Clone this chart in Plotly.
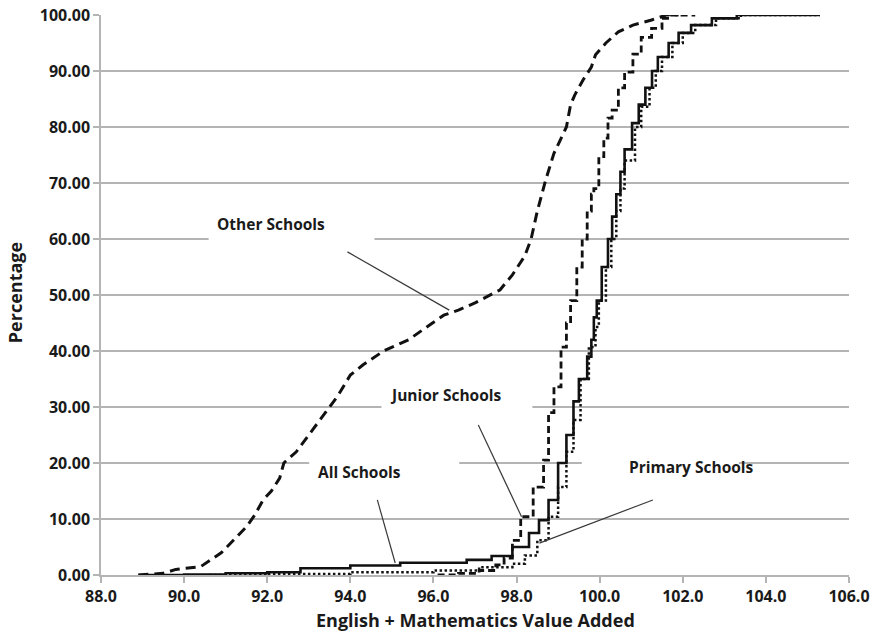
import plotly.graph_objects as go

# ---------------- data ----------------
other_x = [88.9, 89.5, 89.8, 90.4, 90.9, 91.25, 91.5, 91.7, 91.9, 92.1, 92.3, 92.4, 92.7,
           93.1, 93.4, 93.7, 94.0, 94.3, 94.8, 95.4, 95.9, 96.25, 96.6, 97.0, 97.6, 97.9,
           98.2, 98.35, 98.5, 98.7, 98.9, 99.2, 99.3, 99.4, 99.6, 99.8, 99.9, 100.15,
           100.45, 100.8, 101.25, 101.6, 101.9]
other_y = [0, 0.3, 1, 1.5, 4, 6.6, 8.6, 10.7, 13.4, 15, 17.3, 20, 22,
           26, 29, 32, 35.7, 37.5, 40, 42, 44.6, 46.4, 47.3, 48.6, 50.9, 53.6,
           57, 60, 65, 70.5, 75.3, 80, 84, 85.7, 88.4, 90.7, 92.9, 95,
           97, 98.2, 99.1, 100, 100]

junior_x = [96.1, 96.6, 97.1, 97.5, 97.7, 97.9, 98.1, 98.4, 98.65, 98.77, 98.9, 99.07,
            99.2, 99.3, 99.45, 99.58, 99.7, 99.8, 99.86, 99.98, 100.1, 100.2, 100.3,
            100.45, 100.6, 100.8, 101.0, 101.25, 101.5, 101.7, 102.3]
junior_y = [0, 0.3, 0.8, 1.8, 3, 6.2, 10.4, 15.7, 20.5, 29, 33.6, 40.7,
            45, 49, 55, 60, 65, 68, 69, 74.7, 78, 81.6, 83,
            87, 89.8, 93, 96, 97.6, 99.4, 100, 100]

all_x = [88.9, 90.0, 91.0, 92.0, 92.8, 94.0, 95.2, 96.8, 97.4, 97.9, 98.3, 98.54, 98.77,
         99.0, 99.2, 99.37, 99.5, 99.7, 99.8, 99.86, 99.93, 100.05, 100.2, 100.3, 100.4,
         100.5, 100.6, 100.78, 100.94, 101.1, 101.26, 101.4, 101.66, 101.9, 102.2, 102.7,
         103.3, 105.3]
all_y = [0, 0.1, 0.3, 0.5, 1.2, 1.7, 2.2, 2.7, 3.4, 5, 7.5, 9.8, 13.4,
         20, 25, 31, 35, 39, 42, 46, 49, 55, 60, 64, 68,
         72, 76, 80.7, 84, 87, 90, 92.5, 95, 96.8, 98.2, 99.4,
         100, 100]

primary_x = [90.6, 92.0, 94.0, 96.0, 97.1, 97.9, 98.2, 98.5, 98.77, 99.0, 99.2, 99.37,
             99.54, 99.74, 99.9, 99.98, 100.15, 100.28, 100.4, 100.5, 100.6, 100.85,
             101.0, 101.2, 101.35, 101.5, 101.75, 102.0, 102.3, 102.8, 103.4, 105.3]
primary_y = [0, 0.2, 0.5, 0.8, 1.4, 2, 3.5, 6.2, 10.4, 15.7, 22, 27.7,
             35, 40.7, 44.3, 49, 55, 60, 65, 69, 74, 80,
             83.6, 87, 90, 92.5, 95, 96.8, 98.2, 99.4, 100, 100]

x_ticks = [88, 90, 92, 94, 96, 98, 100, 102, 104, 106]
y_ticks = [0, 10, 20, 30, 40, 50, 60, 70, 80, 90, 100]

labels = ["Other Schools", "Junior Schools", "All Schools", "Primary Schools"]
x_title = "English + Mathematics Value Added"
y_title = "Percentage"

# ---------------- figure ----------------
FONT = "Open Sans"
TXT = "#1a1a1a"
GRID = "#b4b4b4"

fig = go.Figure()
fig.add_trace(go.Scatter(x=primary_x, y=primary_y, mode="lines", name=labels[3],
                         line=dict(color="#111111", width=2.5, dash="2.5px,2.5px", shape="hv")))
fig.add_trace(go.Scatter(x=all_x, y=all_y, mode="lines", name=labels[2],
                         line=dict(color="#111111", width=2.6, shape="hv")))
fig.add_trace(go.Scatter(x=junior_x, y=junior_y, mode="lines", name=labels[1],
                         line=dict(color="#111111", width=2.8, dash="7px,4px", shape="hv")))
fig.add_trace(go.Scatter(x=other_x, y=other_y, mode="lines", name=labels[0],
                         line=dict(color="#111111", width=3, dash="10px,6px", shape="linear")))

# white text boxes (cover gridlines) + callout lines
boxes = [
    (90.59, 94.58, 58.9, 65.5),
    (94.75, 98.38, 29.1, 34.8),
    (93.01, 96.62, 15.5, 21.4),
    (99.57, 103.35, 16.6, 22.0),
]
for x0, x1, y0, y1 in boxes:
    fig.add_shape(type="rect", x0=x0, x1=x1, y0=y0, y1=y1, xref="x", yref="y",
                  fillcolor="white", line=dict(width=0), layer="above")

callouts = [
    (93.93, 57.7, 96.38, 47.3),
    (97.08, 26.8, 98.12, 10.4),
    (94.65, 13.4, 95.08, 2.14),
    (101.28, 13.4, 98.55, 5.7),
]
for x0, y0, x1, y1 in callouts:
    fig.add_shape(type="line", x0=x0, y0=y0, x1=x1, y1=y1, xref="x", yref="y",
                  line=dict(color="#3a3a3a", width=1.2), layer="above")

label_pos = [(92.1, 62.7), (96.29, 32.1), (94.22, 18.4), (102.2, 19.3)]
for (lx, ly), txt in zip(label_pos, labels):
    fig.add_annotation(x=lx, y=ly, xref="x", yref="y", text=txt, showarrow=False,
                       font=dict(family=FONT, size=15.5, color=TXT, weight="bold"))

# axis titles placed as paper annotations
fig.add_annotation(x=0.5, y=-0.08, xref="paper", yref="paper", text=x_title,
                   showarrow=False, xanchor="center", yanchor="middle",
                   font=dict(family=FONT, size=18, color=TXT, weight="bold"))
fig.add_annotation(x=-0.115, y=0.505, xref="paper", yref="paper", text=y_title,
                   showarrow=False, xanchor="center", yanchor="middle", textangle=-90,
                   font=dict(family=FONT, size=18, color=TXT, weight="bold"))

fig.update_layout(
    width=875, height=637,
    margin=dict(l=101, r=26, t=15, b=62),
    paper_bgcolor="white", plot_bgcolor="white",
    showlegend=False,
    font=dict(family=FONT, color=TXT),
)
fig.update_xaxes(
    range=[88, 106], tickvals=x_ticks, ticktext=[f"{v:.1f}" for v in x_ticks],
    showgrid=False, zeroline=False, automargin=False, ticklabeloverflow="allow",
    showline=True, linecolor=GRID, linewidth=1.5,
    ticks="outside", ticklen=6, tickcolor=GRID, tickwidth=1.5,
    tickfont=dict(family=FONT, size=16, color=TXT, weight="bold"),
)
fig.update_yaxes(
    range=[0, 100], tickvals=y_ticks, ticktext=[f"{v:.2f}" for v in y_ticks],
    showgrid=True, gridcolor=GRID, gridwidth=1.5, zeroline=False, automargin=False,
    ticklabeloverflow="allow",
    showline=True, linecolor=GRID, linewidth=1.5,
    ticks="outside", ticklen=6, tickcolor=GRID, tickwidth=1.5,
    tickfont=dict(family=FONT, size=16, color=TXT, weight="bold"),
)

# remove the browser's default 8px body margin so the figure fills the window
fig.write_html("out.html",
               config={"displayModeBar": False},
               post_script="document.body.style.margin='0';document.body.style.overflow='hidden';")
